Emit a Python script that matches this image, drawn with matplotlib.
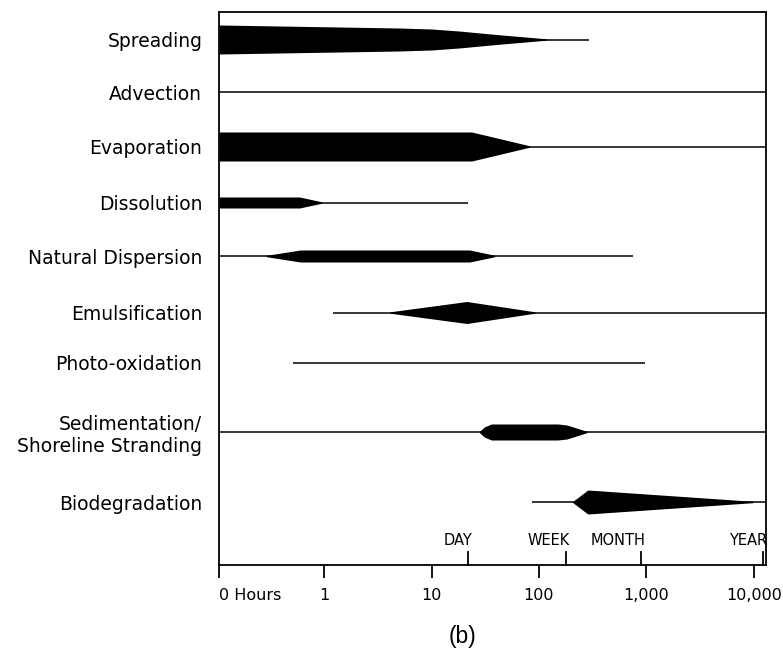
import numpy as np
import matplotlib.pyplot as plt

# processes, top to bottom
processes = ["Spreading", "Advection", "Evaporation", "Dissolution",
             "Natural Dispersion", "Emulsification", "Photo-oxidation",
             "Sedimentation/\nShoreline Stranding", "Biodegradation"]
row_y = [39.5, 92, 146.5, 202.5, 256, 312.5, 363, 432, 502]

# thin line extent (hours)
line_start = [0.105, 0.105, 0.105, 0.105, 0.105, 1.2, 0.51, 0.105, 86]
line_end = [291, 13000, 13000, 21.8, 748, 13000, 968, 13000, 13000]

# thick part: times (hours) and half thickness
shape_times = [
    [0.105, 5.0, 10, 18, 40, 118],
    [],
    [0.105, 23.7, 82],
    [0.105, 0.59, 0.95],
    [0.29, 0.6, 22.7, 38.8],
    [4.1, 21.3, 91.6],
    [],
    [28, 31, 36, 150, 182, 279],
    [207, 285, 9800],
]
shape_widths = [
    [14.5, 11.5, 10.5, 8.5, 5, 0.7],
    [],
    [14.5, 14.5, 0.7],
    [5.5, 5.5, 0.7],
    [0.7, 6, 6, 0.7],
    [0.7, 11, 0.7],
    [],
    [0.7, 5, 8, 8, 7, 0.7],
    [0.7, 12, 0.7],
]

tick_hours = [0.105, 1, 10, 100, 1000, 10000]
tick_labels = ["0 Hours", "1", "10", "100", "1,000", "10,000"]
period_hours = [22, 178, 890, 12100]
period_labels = ["DAY", "WEEK", "MONTH", "YEAR"]

fig = plt.figure(figsize=(7.83, 6.52), dpi=100)
ax = fig.add_axes([219 / 783, 87 / 652, 547 / 783, 553 / 652])
ax.set_xscale("log")
ax.set_xlim(0.105, 13000)
ax.set_ylim(565, 12)

for y, s, e, t, w in zip(row_y, line_start, line_end, shape_times, shape_widths):
    ax.plot([s, e], [y, y], color="black", lw=1.1, solid_capstyle="butt")
    if t:
        t = np.array(t)
        w = np.array(w)
        ax.fill_between(t, y - w, y + w, color="black", lw=0)

ax.set_yticks(row_y, processes, fontsize=13.5)
ax.tick_params(axis="y", length=0, pad=12)
for lab in ax.get_yticklabels():
    lab.set_ha("right")
    lab.set_multialignment("right")

ax.set_xticks(tick_hours, tick_labels, fontsize=11.5)
ax.minorticks_off()
ax.tick_params(axis="x", which="major", direction="out", length=9.5, width=1.3, pad=7)
ax.get_xticklabels()[0].set_ha("left")

# period markers above the axis, labels sit just left of the tick
trans = ax.get_xaxis_transform()
for h, lab in zip(period_hours, period_labels):
    ax.plot([h, h], [0, 0.024], color="black", lw=1.3, transform=trans, clip_on=False)
    ax.annotate(lab, (h, 0.045), xycoords=trans, xytext=(3, 0),
                textcoords="offset points", ha="right", va="center", fontsize=10.5)

for sp in ax.spines.values():
    sp.set_linewidth(1.3)

fig.text(463 / 783, 1 - 636 / 652, "(b)", ha="center", va="center",
         fontsize=16.5, family="Liberation Sans")

fig.savefig("out.png", dpi=100)
